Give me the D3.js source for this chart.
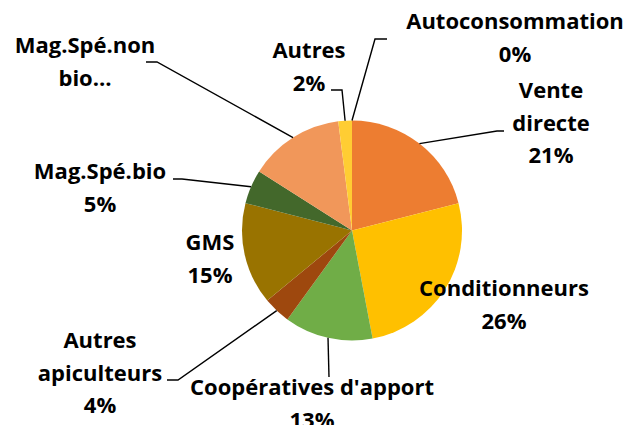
<!DOCTYPE html>
<html>
<head>
<meta charset="utf-8">
<script src="https://cdn.jsdelivr.net/npm/d3@7"></script>
<style>
  body { margin: 0; background: #fff; }
  .lbl { font-family: "Open Sans", Lato, sans-serif; font-weight: bold; font-size: 22px; fill: #000; }
  .leader { fill: none; stroke: #000; stroke-width: 1.4; }
</style>
</head>
<body>
<svg class="chart"></svg>
<script>
const dimen = { width: 629, height: 425 }

// data
const categories = ['Vente directe', 'Conditionneurs', "Coopératives d'apport", 'Autres apiculteurs',
  'GMS', 'Mag.Spé.bio', 'Mag.Spé.non bio', 'Autres', 'Autoconsommation']
const values = [21, 26, 13, 4, 15, 5, 14, 2, 0]
const colors = ['#ED7D31', '#FFC000', '#70AD47', '#9E480E', '#997300', '#43682B', '#F1975A', '#FFCD33', '#A9D18E']

// label text as drawn (wrapped)
const labelLines = [
  ['Vente', 'directe'],
  ['Conditionneurs'],
  ["Coopératives d'apport"],
  ['Autres', 'apiculteurs'],
  ['GMS'],
  ['Mag.Spé.bio'],
  ['Mag.Spé.non', 'bio…'],
  ['Autres'],
  ['Autoconsommation'],
]
const showPct = [true, true, true, true, true, true, false, true, true]

// label placement: text center x, first baseline y, leader elbow (or null)
const labelPos = [
  { x: 551, y: 98,  elbow: [[497, 131], [504, 131]] },
  { x: 504, y: 296, elbow: null },
  { x: 312, y: 395, elbow: [[329, 377]] },
  { x: 100, y: 348, elbow: [[178, 380], [167, 380]] },
  { x: 210, y: 250, elbow: null },
  { x: 100, y: 179, elbow: [[182, 179], [173, 179]] },
  { x: 85,  y: 53,  elbow: [[157, 62], [146, 62]] },
  { x: 309, y: 58,  elbow: [[342, 90], [331, 90]] },
  { x: 515, y: 29,  elbow: [[375, 39], [387, 39]] },
]
const lineGap = 32.5

const center = { x: 352, y: 230.5 }
const radius = 110

const svg = d3.select('.chart')
    .attr('width', dimen.width)
    .attr('height', dimen.height)

const pie = d3.pie().sort(null).value(d => d.value)
const arcs = pie(categories.map((c, i) => ({ name: c, value: values[i], i: i })))

const arc = d3.arc().innerRadius(0).outerRadius(radius)
const edge = d3.arc().innerRadius(radius).outerRadius(radius)

const g = svg.append('g')
    .attr('transform', `translate(${center.x}, ${center.y})`)

// Draw slices
g.selectAll('path.slice')
    .data(arcs)
  .enter().append('path')
    .attr('class', 'slice')
    .attr('d', arc)
    .attr('fill', d => colors[d.data.i])

// Draw leader lines
const line = d3.line()
svg.append('g')
  .selectAll('path')
    .data(arcs.filter(d => labelPos[d.data.i].elbow))
  .enter().append('path')
    .attr('class', 'leader')
    .attr('d', d => {
      const p = edge.centroid(d)
      const pts = [[p[0] + center.x, p[1] + center.y]].concat(labelPos[d.data.i].elbow)
      return line(pts)
    })

// Draw labels
const labels = svg.append('g')
  .selectAll('text')
    .data(arcs)
  .enter().append('text')
    .attr('class', 'lbl')
    .attr('text-anchor', 'middle')
    .attr('x', d => labelPos[d.data.i].x)
    .attr('y', d => labelPos[d.data.i].y)

labels.each(function(d) {
  const i = d.data.i
  const lines = labelLines[i].slice()
  if (showPct[i]) lines.push(d3.format('d')(d.data.value) + '%')
  d3.select(this).selectAll('tspan')
      .data(lines)
    .enter().append('tspan')
      .attr('x', labelPos[i].x)
      .attr('dy', (t, k) => k === 0 ? 0 : lineGap)
      .text(t => t)
})
</script>
</body>
</html>
